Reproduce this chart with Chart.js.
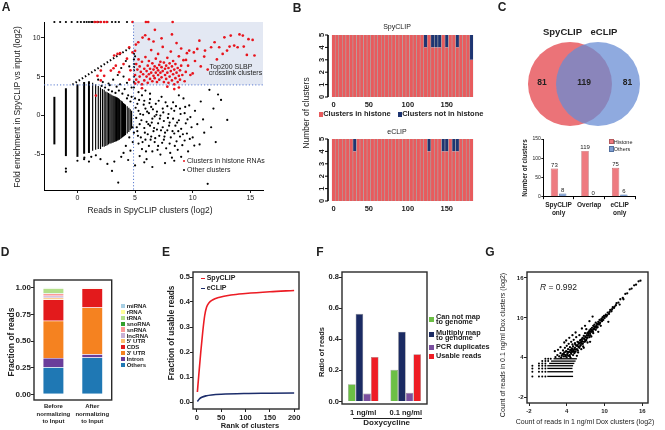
<!DOCTYPE html>
<html>
<head>
<meta charset="utf-8">
<script src="https://cdn.jsdelivr.net/npm/chart.js@4.4.1/dist/chart.umd.min.js"></script>
<style>
body { margin: 0; background: #fff; }
#fig { position: relative; width: 665px; height: 430px; overflow: hidden; color: #222;
       font-family: 'Liberation Sans', Arial, Helvetica, sans-serif; }
canvas { position: absolute; }
.t { position: absolute; white-space: pre; }
.sq { position: absolute; }
</style>
</head>
<body>
<div id="fig"></div>
<script>
// ---------- A: enrichment vs reads ----------
// dense columns of dots at the small discrete read counts: x, lowest y, highest y
const aColX  = [-2, -1, 0, 0.58, 1, 1.32, 1.58, 1.81, 2, 2.17, 2.32, 2.46, 2.58, 2.7, 2.81, 2.91, 3, 3.09, 3.17, 3.25, 3.32, 3.39, 3.46, 3.52, 3.58, 3.64, 3.7, 3.81, 3.91, 4, 4.09, 4.17, 4.32, 4.46, 4.58, 4.7];
const aColLo = [-3.7, -5.2, -5.3, -4.9, -4.8, -4.5, -4.4, -4.3, -4.3, -4.0, -4.0, -3.9, -3.8, -3.7, -3.6, -3.6, -3.5, -3.5, -3.4, -3.4, -3.3, -3.3, -3.2, -3.2, -3.1, -3.1, -3.0, -2.9, -2.8, -2.7, -2.6, -2.5, -2.3, -2.1, -1.9, -1.7];
const aColHi = [2.4, 3.5, 4.0, 4.3, 4.4, 4.2, 4.0, 3.8, 3.6, 3.4, 3.3, 3.1, 3.0, 2.9, 2.8, 2.7, 2.6, 2.55, 2.5, 2.45, 2.4, 2.35, 2.3, 2.25, 2.2, 2.1, 2.0, 1.9, 1.8, 1.6, 1.5, 1.4, 1.2, 1.0, 0.8, 0.6];
// clusters with no input reads lie on a diagonal
const aDiagX = [-0.43, 4.64];
const aDiagY = [3.97, 8.76];
// thresholds of the top200 box
const aCutX = 4.87;
const aCutY = 3.93;
const aRed = [
  [1.5,12],[1.74,12],[2.03,12],[2.32,12],[2.55,12],[4.78,12],[5.94,12],[6.14,12],[8.26,12],
  [1.74,5.1],[2.03,4.5],[2.03,5.77],[2.32,5.1],[2.9,5.77],[3.13,6.07],[3.19,7.7],[3.33,6.4],[3.48,7.9],[3.62,5.56],[3.7,8.0],[4.0,6.6],[4.3,7.3],[1.6,2.56],[4.6,5.8],[4.5,4.6],
  [4.78,8.1],[5.07,9.1],[5.28,9.4],[4.49,8.76],[5.88,10.3],[5.65,10.0],[6.2,9.8],[6.6,9.5],[7.3,9.9],[8.2,10.4],[6.72,11.0],
  [5.0,4.1],[5.1,4.6],[5.0,5.2],[5.2,5.9],[5.1,6.6],[5.3,7.2],[5.0,8.3],[5.3,4.3],[5.4,5.0],[5.5,5.6],[5.4,6.3],[5.6,4.0],[5.6,6.9],
  [5.7,5.3],[5.8,4.5],[5.8,6.0],[5.9,7.5],[6.0,5.0],[6.0,5.7],[6.1,4.2],[6.1,6.4],[6.2,5.3],[6.2,7.0],[6.3,4.7],[6.3,6.0],[6.4,5.5],
  [6.4,8.4],[6.5,4.4],[6.5,6.7],[6.6,5.1],[6.6,5.9],[6.7,4.8],[6.7,6.3],[6.8,5.5],[6.8,7.3],[6.9,4.3],[6.9,6.1],[7.0,5.2],[7.0,5.8],
  [7.0,7.9],[7.1,4.6],[7.1,6.5],[7.2,5.5],[7.2,6.9],[7.3,4.9],[7.3,6.2],[7.4,5.7],[7.4,8.8],[7.5,4.3],[7.5,6.8],[7.6,5.2],[7.6,6.0],
  [7.7,4.7],[7.7,6.4],[7.8,5.5],[7.8,7.4],[7.9,4.2],[7.9,6.1],[8.0,5.0],[8.0,6.7],[8.1,5.7],[8.1,8.2],[8.2,4.5],[8.2,6.3],[8.3,5.3],
  [8.3,7.0],[8.4,4.0],[8.4,5.9],[8.5,4.8],[8.5,6.6],[8.6,5.5],[8.6,9.3],[8.7,4.3],[8.7,6.1],[8.8,5.1],[8.8,7.6],[8.9,4.6],[8.9,5.8],
  [9.0,6.4],[9.0,8.6],[9.1,5.2],[9.2,7.1],[9.3,4.4],[9.4,5.6],[9.42,7.14],[9.5,8.0],[9.6,6.4],[9.7,8.33],[9.8,5.2],[10.0,5.4],[10.1,8.1],
  [10.2,7.0],[10.4,8.55],[10.58,9.6],[10.7,6.3],[11.0,7.56],[11.07,8.33],[11.3,5.9],[11.6,8.76],[11.9,9.4],[12.1,7.2],[12.3,8.76],
  [12.6,7.9],[12.75,10.04],[12.98,8.33],[13.2,8.85],[13.3,10.26],[13.6,8.97],[13.9,8.76],[14.06,10.4],[14.35,10.26],[14.43,8.85],
  [14.7,7.78],[14.84,9.8],[15.2,9.7],[15.36,7.7],[8.4,3.4],[8.8,3.6],[7.8,3.7],[5.6,3.5]
];
const aOther = [
  [-2,12],[-1.5,12],[-1,12],[-0.5,12],[0,12],[0.3,12],[0.58,12],[0.8,12],[1,12],[1.2,12],[1.32,12],[1.58,12],[1.8,12],[2,12],[2.3,12],[2.6,12],[3,12],[3.3,12],[3.6,12],[4.3,12],
  [4.9,7.9],[4.9,7.2],[4.9,6.6],[4.9,6.2],[4.9,5.8],[4.9,5.0],[4.9,4.3],[4.9,3.6],
  [5.0,7.6],[4.2,7.0],[3.8,6.1],[3.5,5.2],[3.1,4.6],[2.7,4.1],[2.2,4.3],[1.8,4.6],[4.5,6.3],[4.0,5.0],[4.3,4.2],[3.7,4.0],[4.7,3.6],[5.3,3.0],[5.6,2.6],[5.9,3.2],[6.3,2.8],
  [2.1,3.8],[2.4,3.6],[2.7,3.3],[3.0,3.1],[3.3,2.9],[3.6,3.2],[3.9,2.8],[4.1,3.4],[4.4,2.6],[4.7,2.4],[2.8,3.9],[3.4,3.7],
  [5.0,2.2],[5.2,1.5],[5.3,0.6],[5.1,-0.3],[5.4,-1.1],[5.2,-2.0],[5.5,-2.8],[5.3,-3.6],[5.6,-4.3],[5.4,-5.2],
  [5.8,1.9],[5.9,0.9],[5.7,0.1],[6.0,-0.8],[5.8,-1.6],[6.1,-2.4],[5.9,-3.1],[6.2,-3.9],[6.0,-5.6],
  [6.3,2.1],[6.4,1.1],[6.2,0.3],[6.5,-0.4],[6.3,-1.3],[6.6,-2.0],[6.4,-2.7],[6.7,-3.4],[6.5,-4.6],
  [6.8,1.5],[6.9,0.5],[6.7,-0.1],[7.0,-1.0],[6.9,-1.8],[7.1,-2.6],[7.0,-3.9],[7.2,-5.0],
  [7.3,2.4],[7.4,0.9],[7.2,0.0],[7.5,-0.7],[7.4,-1.5],[7.6,-2.2],[7.5,-3.1],[7.7,-4.2],
  [7.8,1.2],[7.9,0.2],[8.0,-0.9],[7.8,-1.9],[8.1,-2.8],[8.0,-3.6],[8.2,-5.4],
  [8.3,1.7],[8.4,0.6],[8.3,-0.4],[8.5,-1.3],[8.4,-2.3],[8.6,-3.3],[8.7,-4.4],
  [8.8,2.6],[8.9,0.9],[8.8,-0.6],[9.0,-1.7],[8.9,-2.7],[9.1,-3.8],
  [9.2,2.2],[9.3,0.3],[9.4,-1.0],[9.5,-2.3],[9.3,-3.2],[9.6,-4.6],
  [9.7,1.3],[9.8,-0.2],[9.9,-1.5],[10.0,-2.8],[10.14,-3.85],[10.2,0.6],[10.4,-1.1],[10.6,-3.7],[10.7,1.8],[10.9,-0.5],[11.0,-2.2],
  [11.45,3.3],[11.6,-1.5],[11.8,0.9],[12.0,-3.4],[12.2,2.7],[12.46,2.0],[13.0,-0.56],
  [5.05,1.0],[5.15,-1.5],[5.25,-2.6],[5.35,2.0],[5.45,0.2],[5.55,-0.6],[5.65,-3.4],[5.75,1.4],[5.85,-2.2],[5.95,-4.6],
  [6.05,0.5],[6.15,-1.1],[6.25,1.6],[6.35,-3.1],[6.45,-0.9],[6.55,0.8],[6.65,-1.6],[6.75,-2.9],[6.85,0.1],[6.95,-4.4],
  [7.05,1.9],[7.15,-0.4],[7.25,-1.9],[7.35,-3.5],[7.45,0.4],[7.55,-2.7],[7.65,1.7],[7.85,-0.3],[7.95,-1.3],[8.05,-4.8],
  [8.15,0.9],[8.25,-2.0],[8.45,-3.9],[8.55,1.2],[8.65,-0.9],[8.75,-2.0],[8.95,0.2],[9.15,-2.4],[9.35,1.1],[9.55,-0.5],[9.75,-3.0],
  [11.3,-8.76],[3.54,-8.6],[9.0,-5.3],[8.4,-5.8],[7.6,-6.1],[6.5,-6.6],[5.8,-6.0],[5.0,-6.4],[4.4,-5.7],[3.8,-5.3],[3.2,-5.9],
  [2.6,-6.2],[2.0,-5.6],[1.6,-5.1],[1.2,-5.3],[0.6,-5.4],[3.0,-7.1],[4.0,-4.8],[4.6,-4.5],[4.2,-3.9],[4.8,-3.4],[4.5,-2.8],
  [4.9,-2.2],[4.3,2.2],[4.6,1.8],[4.8,-1.5],[-1,-6.8],[-1,-7.2],[0,-5.8],[0.58,-5.6],[1.0,-5.9]
];
const aXTicks = [0, 5, 10, 15];
const aYTicks = [-5, 0, 5, 10];

// ---------- B: top200 clusters in bins of 5 ----------
const bSpyHist  = [5,5,5,5,5,5,5,5,5,5, 5,5,5,5,5,5,5,5,5,5, 5,5,5,5,5,5,4,5,4,4, 4,5,4,5,5,4,5,5,5,3];
const bSpyOther = [0,0,0,0,0,0,0,0,0,0, 0,0,0,0,0,0,0,0,0,0, 0,0,0,0,0,0,1,0,1,1, 1,0,1,0,0,1,0,0,0,2];
const bEclHist  = [5,5,5,5,5,5,4,5,5,5, 5,5,5,5,5,5,5,5,5,5, 5,5,5,5,5,5,5,4,5,5, 5,4,4,5,4,4,5,5,5,5];
const bEclOther = [0,0,0,0,0,0,1,0,0,0, 0,0,0,0,0,0,0,0,0,0, 0,0,0,0,0,0,0,1,0,0, 0,1,1,0,1,1,0,0,0,0];
const bTickBin = [0, 10, 21, 32];
const bTickLabels = ['0', '50', '100', '150'];
const bYTicks = [0, 1, 2, 3, 4, 5];

// ---------- C: overlap of the two top200 sets ----------
const vennNames = ['SpyCLIP', 'eCLIP'];
const vennCounts = [81, 119, 81];
const cGroups = [['SpyCLIP', 'only'], 'Overlap', ['eCLIP', 'only']];
const cHistone = [73, 119, 75];
const cOthers = [8, 0, 6];
const cYTicks = [0, 50, 100, 150];

// ---------- D: read fractions by RNA type ----------
const dCats = [['Before', 'normalizing', 'to Input'], ['After', 'normalizing', 'to Input']];
const dTypes  = ['Others', 'Intron', "3' UTR", 'CDS', "5' UTR", 'lncRNA', 'snRNA', 'snoRNA', 'tRNA', 'rRNA', 'miRNA'];
const dBefore = [0.255, 0.085, 0.35, 0.20, 0.015, 0.02, 0.02, 0.005, 0.045, 0.003, 0.002];
const dAfter  = [0.345, 0.03, 0.44, 0.178, 0.004, 0.001, 0.001, 0.0, 0.001, 0.0, 0.0];
const dYTicks = [0, 0.25, 0.5, 0.75, 1];

// ---------- E: cumulative usable reads ----------
const eRankSpy = [1, 4, 8, 12, 16, 20, 25, 32, 45, 70, 100, 150, 200];
const eSpy     = [0.04, 0.11, 0.20, 0.28, 0.345, 0.38, 0.397, 0.408, 0.418, 0.428, 0.434, 0.441, 0.446];
const eRankEcl = [1, 5, 10, 20, 30, 50, 100, 150, 200];
const eEcl     = [0.002, 0.012, 0.019, 0.025, 0.028, 0.031, 0.034, 0.035, 0.036];
const eXTicks = [0, 50, 100, 150, 200];
const eYTicks = [0, 0.1, 0.2, 0.3, 0.4, 0.5];

// ---------- F: read categories by dose ----------
const fDoses = ['1 ng/ml', '0.1 ng/ml'];
const fCannot = [0.111, 0.204];
const fMulti  = [0.564, 0.449];
const fPcr    = [0.051, 0.056];
const fUsable = [0.287, 0.304];
const fYTicks = [0, 0.2, 0.4, 0.6, 0.8];

// ---------- G: reads per cluster, two doses ----------
// low-count rows: y level, first x, last x
const gRowY  = [1.2, 1.9, 2.4, 2.8, 3.15, 3.5, 3.85];
const gRowX0 = [0.9, 0.9, 0.9, 0.9, 1.2, 1.5, 1.9];
const gRowX1 = [5.0, 5.0, 4.9, 5.0, 5.2, 5.4, 5.6];
const gDots = [[-1.47,1.2],[-0.42,1.2],[0.1,1.2],[0.6,1.2],[-1.47,1.9],[-0.42,1.9],[0.1,1.9],[0.6,1.9],[-1.47,2.4],[-0.42,2.4],[0.1,2.4],[0.6,2.4],
  [-1.47,2.8],[-0.42,2.8],[0.1,2.8],[0.6,2.8],[-0.42,3.15],[0.1,3.15],[0.6,3.15],[0.1,3.5],[0.6,3.5],[1.05,3.5],[0.6,3.85],[1.05,3.85],[1.45,3.85]];
const gDiag = [
  [2.2,4.1],[2.5,4.4],[2.8,4.2],[3.0,4.7],[3.1,4.0],[3.3,4.5],[3.4,5.1],[3.5,4.2],[3.6,4.8],[3.7,5.5],[3.8,4.4],[3.9,5.0],[4.0,4.1],[4.0,5.8],
  [4.1,4.6],[4.2,5.3],[4.3,4.3],[4.3,6.1],[4.4,4.9],[4.5,5.6],[4.5,4.2],[4.6,5.1],[4.7,6.4],[4.7,4.6],[4.8,5.4],[4.9,4.9],[4.9,6.0],[5.0,4.4],
  [5.0,5.7],[5.1,5.1],[5.1,6.7],[5.2,4.7],[5.3,5.5],[5.3,6.2],[5.4,4.9],[5.5,5.8],[5.5,7.1],[5.6,5.3],[5.7,6.4],[5.8,5.7],[5.8,4.8],[5.9,6.1],
  [6.0,5.5],[6.0,7.4],[6.1,6.6],[6.2,5.9],[6.2,6.3],[6.3,5.3],[6.4,6.8],[6.4,6.1],[6.5,7.0],[6.6,6.4],[6.6,5.7],[6.7,7.3],[6.8,6.8],[6.9,6.5],
  [6.9,7.7],[7.0,7.1],[7.1,6.7],[7.1,8.3],[7.2,7.4],[7.3,7.0],[7.3,6.3],[7.4,7.8],[7.5,7.4],[7.6,8.1],[7.6,7.1],[7.7,7.7],[7.8,8.3],[7.9,7.9],
  [7.9,7.2],[8.0,8.5],[8.1,8.1],[8.2,8.8],[8.2,7.7],[8.3,8.4],[8.4,9.0],[8.5,8.6],[8.6,8.2],[8.6,9.3],[8.7,8.8],[8.8,9.1],[8.9,8.6],[9.0,9.4],
  [9.1,9.0],[9.2,9.7],[9.3,9.3],[9.4,8.8],[9.5,9.8],[9.6,9.5],[9.7,10.1],[9.8,9.7],[9.9,10.3],[10.0,10.0],[10.2,10.5],[10.3,10.2],[10.5,10.8],
  [10.7,10.6],[10.9,11.2],[11.1,11.0],[11.3,11.6],[11.6,11.7],[11.9,12.2],[12.2,12.3],[12.5,12.8],[12.9,13.0],[13.3,13.6],[13.6,13.7],
  [14.0,14.3],[14.3,14.4],[14.7,14.9],[15.0,15.0],[15.4,15.5],[15.7,15.6],
  [10.6,9.4],[8.1,10.2],[6.4,8.4],[5.4,7.8],[4.4,7.0],[3.6,6.3],[3.0,5.6],[2.6,5.2],[7.6,9.5],[9.0,7.9],[7.7,6.4],[6.7,5.5],[5.6,4.3],
  [4.6,4.0],[3.9,6.6],[2.1,5.0],[4.9,7.4],[6.9,8.8],[12.4,12.0],[13.0,12.8],
  [4.15,4.9],[4.55,5.2],[4.85,5.0],[5.25,5.3],[5.65,5.9],[5.95,5.6],[6.35,6.4],[6.75,6.9],[7.15,7.0],[7.45,7.6],[7.85,8.0],[8.25,8.3],
  [8.65,8.7],[9.05,9.2],[9.45,9.6],[3.45,4.6],[3.85,4.9],[5.35,6.0],[6.05,6.2],[7.25,7.7],
  [3.2,4.3],[3.55,4.5],[3.75,4.2],[4.05,4.4],[4.25,4.8],[4.45,4.4],[4.65,4.8],[4.75,5.2],[4.95,5.3],[5.15,4.9],[5.45,5.2],[5.75,5.1],
  [5.85,6.3],[6.15,5.8],[6.25,6.7],[6.45,6.5],[6.55,6.1],[6.85,6.4],[6.95,7.2],[7.05,6.6],[7.35,7.3],[7.55,7.9],[7.75,7.4],[7.95,8.2],
  [8.15,7.9],[8.35,8.7],[8.45,8.3],[8.75,8.5],[8.85,9.0],[9.15,9.3],[9.25,9.1],[9.55,9.9],[9.65,9.7],[9.95,10.0],[10.1,10.3],[10.4,10.4],
  [10.8,10.9],[11.2,11.3],[11.5,11.5],[11.8,11.9]
];
const gTicks = [-2, 4, 10, 16];
const gR = '0.992';

// ---------- helpers ----------
const FF = "'Liberation Sans', Arial, Helvetica, sans-serif";
Chart.defaults.font.family = FF;
Chart.defaults.color = '#222';
Chart.defaults.animation = false;
Chart.defaults.responsive = false;
Chart.defaults.events = [];
Chart.defaults.plugins.legend.display = false;
Chart.defaults.plugins.tooltip.enabled = false;

const fig = document.getElementById('fig');

function canvasAt(x, y, w, h) {
    const c = document.createElement('canvas');
    c.width = w; c.height = h;
    c.style.left = x + 'px'; c.style.top = y + 'px';
    c.style.width = w + 'px'; c.style.height = h + 'px';
    fig.appendChild(c);
    return c;
}

function text(s, x, y, size, opt) {
    opt = opt || {};
    const d = document.createElement('div');
    d.className = 't';
    if (opt.html) d.innerHTML = s; else d.textContent = s;
    const tx = opt.align == 'left' ? '0' : '-50%';
    d.style.left = x + 'px'; d.style.top = y + 'px';
    d.style.font = (opt.bold ? 'bold ' : '') + size + 'px ' + FF;
    d.style.lineHeight = opt.lh || 1.15;
    d.style.transform = 'translate(' + tx + ',-50%)' + (opt.rot ? ' rotate(-90deg)' : '');
    fig.appendChild(d);
    return d;
}

function square(x, y, w, h, color, extra) {
    const d = document.createElement('div');
    d.className = 'sq';
    d.style.cssText = 'left:' + x + 'px;top:' + y + 'px;width:' + w + 'px;height:' + h + 'px;background:' + color + ';' + (extra || '');
    fig.appendChild(d);
}

const fixSize = n => s => { if (s.isHorizontal()) s.height = n; else s.width = n; };
const tickAt = vals => s => { s.ticks = vals.map(v => ({ value: v })); };
const pts = arr => arr.map(p => ({ x: p[0], y: p[1] }));
const noGrid = { display: false, drawTicks: false, tickLength: 0 };

function linAxis(min, max, ticks, size, font, o) {
    o = o || {};
    return {
        type: 'linear', min: min, max: max, stacked: !!o.stacked,
        afterBuildTicks: tickAt(ticks),
        afterFit: fixSize(size),
        grid: { drawOnChartArea: false, tickLength: o.tl || 3, color: '#222', tickWidth: 1 },
        border: o.border ? { display: true, color: '#000', width: o.border } : { display: false },
        ticks: { font: font, color: '#222', padding: o.pad == null ? 0 : o.pad,
                 autoSkip: false, maxRotation: 0, callback: o.fmt || (v => String(v)) }
    };
}

function catAxis(size, font, pad) {
    return {
        type: 'category', stacked: true, afterFit: fixSize(size),
        grid: noGrid, border: { display: false },
        ticks: { font: font, color: '#222', padding: pad, autoSkip: false, maxRotation: 0 }
    };
}

const frame = {
    id: 'frame',
    afterDraw(c) {
        const a = c.chartArea, g = c.ctx;
        g.save();
        g.strokeStyle = '#2a2a2a'; g.lineWidth = 1.4;
        g.strokeRect(a.left, a.top, a.right - a.left, a.bottom - a.top);
        g.restore();
    }
};

// ---------- A ----------
const aGuides = {
    id: 'aGuides',
    beforeDatasetsDraw(c) {
        const g = c.ctx, a = c.chartArea;
        const px = c.scales.x.getPixelForValue(aCutX), py = c.scales.y.getPixelForValue(aCutY);
        g.save();
        g.fillStyle = '#e3e8f3';
        g.fillRect(px, a.top, a.right - px, py - a.top);
        g.restore();
    },
    afterDatasetsDraw(c) {
        const g = c.ctx, a = c.chartArea;
        const px = c.scales.x.getPixelForValue(aCutX), py = c.scales.y.getPixelForValue(aCutY);
        g.save();
        g.strokeStyle = '#5a7bd0'; g.lineWidth = 1; g.setLineDash([1.2, 2]);
        g.beginPath();
        g.moveTo(px, a.top); g.lineTo(px, a.bottom);
        g.moveTo(a.left, py); g.lineTo(a.right, py);
        g.stroke();
        g.restore();
    }
};

const aCols = aColX.map((x, i) => ({
    data: [{ x: x, y: aColLo[i] }, { x: x, y: aColHi[i] }],
    showLine: true, borderColor: '#000', borderWidth: i < 5 ? 2 : 1.15, pointRadius: 0
}));

new Chart(canvasAt(0, 0, 300, 218), {
    type: 'scatter',
    data: {
        datasets: [
            { data: pts(aRed), pointRadius: 1.35, backgroundColor: '#e8141c', borderWidth: 0, clip: false },
            { data: pts(aOther), pointRadius: 1.1, backgroundColor: '#000', borderWidth: 0, clip: false },
            { data: [{ x: aDiagX[0], y: aDiagY[0] }, { x: aDiagX[1], y: aDiagY[1] }], showLine: true,
              borderColor: '#000', borderWidth: 2, borderDash: [1.5, 2.2], pointRadius: 0 }
        ].concat(aCols)
    },
    options: {
        layout: { padding: { top: 22, right: 37, left: 0, bottom: 0 } },
        scales: {
            x: linAxis(-2.9, 16.1, aXTicks, 28, { size: 7 }, { border: 1, pad: 0.5 }),
            y: linAxis(-9.55, 12, aYTicks, 44, { size: 7 }, { border: 1, pad: 0.5 })
        }
    },
    plugins: [aGuides]
});

// ---------- B ----------
const bBinLabels = bSpyHist.map((v, i) => {
    const k = bTickBin.indexOf(i);
    return k < 0 ? '' : bTickLabels[k];
});

// y axis of the bin charts sits a little left of the first bar, labels turned
const bAxis = {
    id: 'bAxis',
    afterDraw(c) {
        const s = c.scales.y, g = c.ctx;
        const x0 = c.chartArea.left - 3.7;
        g.save();
        g.strokeStyle = '#000';
        g.lineWidth = 1.6;
        g.beginPath();
        g.moveTo(x0, s.getPixelForValue(0)); g.lineTo(x0, s.getPixelForValue(5));
        g.stroke();
        g.lineWidth = 1;
        g.font = 'bold 7.5px ' + FF; g.fillStyle = '#222';
        g.textAlign = 'center'; g.textBaseline = 'middle';
        bYTicks.forEach(v => {
            const y = s.getPixelForValue(v);
            g.beginPath(); g.moveTo(x0, y); g.lineTo(x0 - 3, y); g.stroke();
            g.save();
            g.translate(x0 - 6.4, y);
            g.rotate(-Math.PI / 2);
            g.fillText(String(v), 0, 0);
            g.restore();
        });
        g.restore();
    }
};

function binChart(top, hist, other) {
    const bar = { categoryPercentage: 1, barPercentage: 1, borderColor: '#a8a8a8',
                  borderWidth: { left: 0.6, right: 0.6, top: 0, bottom: 0 } };
    new Chart(canvasAt(300, top, 180, 90), {
        type: 'bar',
        data: {
            labels: bBinLabels,
            datasets: [
                Object.assign({ data: hist, backgroundColor: '#e85b5d' }, bar),
                Object.assign({ data: other, backgroundColor: '#1e3572' }, bar)
            ]
        },
        options: {
            layout: { padding: { top: 15, right: 6.7, left: 31.7, bottom: 0 } },
            scales: {
                x: catAxis(13, { size: 7.5, weight: 'bold' }, 3),
                y: { display: false, stacked: true, min: 0, max: 5 }
            }
        },
        plugins: [bAxis]
    });
}
binChart(20, bSpyHist, bSpyOther);
binChart(124, bEclHist, bEclOther);

// ---------- C ----------
new Chart(canvasAt(500, 26, 165, 116), {
    type: 'bubble',
    data: {
        datasets: [
            { data: [{ x: 1, y: 0 }], radius: 42, backgroundColor: 'rgba(104,140,212,0.74)', borderWidth: 0, clip: false },
            { data: [{ x: 0, y: 0 }], radius: 42, backgroundColor: 'rgba(232,92,98,0.86)', borderWidth: 0, clip: false }
        ]
    },
    options: {
        layout: { padding: 0, autoPadding: false },
        scales: { x: { display: false, min: -2.5, max: 3.393 }, y: { display: false, min: -1, max: 1 } }
    }
});

const barVals = {
    id: 'barVals',
    afterDatasetsDraw(c) {
        const g = c.ctx;
        g.save();
        g.font = '6px ' + FF; g.fillStyle = '#222';
        g.textAlign = 'center'; g.textBaseline = 'bottom';
        c.data.datasets.forEach((ds, i) => {
            c.getDatasetMeta(i).data.forEach((b, j) => g.fillText(String(ds.data[j]), b.x, b.y - 0.5));
        });
        g.restore();
    }
};

new Chart(canvasAt(500, 130, 165, 95), {
    type: 'bar',
    data: {
        labels: cGroups,
        datasets: [
            { data: cHistone, backgroundColor: '#ee7b80', borderColor: '#b55a5d', borderWidth: 0.7 },
            { data: cOthers, backgroundColor: '#7e9ed2', borderColor: '#52709f', borderWidth: 0.7 }
        ]
    },
    options: {
        datasets: { bar: { categoryPercentage: 0.54, barPercentage: 0.9 } },
        layout: { padding: { top: 9, right: 30, left: 0, bottom: 0 } },
        scales: {
            x: {
                afterFit: fixSize(28.3),
                grid: { display: true, drawOnChartArea: false, offset: true, tickLength: 2.5, color: '#000' },
                border: { display: true, color: '#000', width: 1 },
                ticks: { font: { size: 6.5, weight: 'bold', lineHeight: 1.23 }, padding: 2, maxRotation: 0, autoSkip: false }
            },
            y: linAxis(0, 150, cYTicks, 43.3, { size: 5 }, { border: 1, tl: 2, pad: 0.5 })
        }
    },
    plugins: [barVals]
});

// ---------- D ----------
const dColors = ['#1f78b4', '#6a3d9a', '#f58220', '#e31a1c', '#fdbf6f', '#cab2d6', '#fb9a99', '#33a02c', '#b2df8a', '#ffff99', '#a6cee3'];
new Chart(canvasAt(0, 240, 160, 190), {
    type: 'bar',
    data: {
        labels: dCats,
        datasets: dTypes.map((t, k) => ({
            label: t,
            data: [dBefore[k], dAfter[k]],
            backgroundColor: dColors[k], borderColor: 'rgba(255,255,255,0.7)', borderWidth: 0.5,
            categoryPercentage: 1, barPercentage: 0.54
        }))
    },
    options: {
        layout: { padding: { top: 40, right: 48.3, left: 0, bottom: 0 } },
        scales: {
            x: catAxis(30, { size: 6, weight: 'bold', lineHeight: 1.25 }, 3),
            y: linAxis(-0.053, 1.072, dYTicks, 34, { size: 8, weight: 'bold' },
                       { stacked: true, fmt: v => v.toFixed(2) })
        }
    },
    plugins: [frame]
});

// ---------- E ----------
new Chart(canvasAt(160, 240, 170, 190), {
    type: 'scatter',
    data: {
        datasets: [
            { data: eRankSpy.map((r, i) => ({ x: r, y: eSpy[i] })), showLine: true, borderColor: '#ec1c24',
              borderWidth: 1.6, pointRadius: 0, cubicInterpolationMode: 'monotone' },
            { data: eRankEcl.map((r, i) => ({ x: r, y: eEcl[i] })), showLine: true, borderColor: '#1c2d6b',
              borderWidth: 1.6, pointRadius: 0, cubicInterpolationMode: 'monotone' }
        ]
    },
    options: {
        layout: { padding: { top: 32, right: 31, left: 0, bottom: 0 } },
        scales: {
            x: linAxis(-8, 210, eXTicks, 21, { size: 7.5, weight: 'bold' }, { pad: 1 }),
            y: linAxis(-0.028, 0.52, eYTicks, 33, { size: 7.5, weight: 'bold' }, { fmt: v => v.toFixed(1) })
        }
    },
    plugins: [frame]
});

// ---------- F ----------
const fBar = { borderColor: '#8a8a8a', borderWidth: 0.6 };
new Chart(canvasAt(310, 240, 125, 190), {
    type: 'bar',
    data: {
        labels: fDoses,
        datasets: [
            Object.assign({ data: fCannot, backgroundColor: '#6cbf45' }, fBar),
            Object.assign({ data: fMulti, backgroundColor: '#1b2b63' }, fBar),
            Object.assign({ data: fPcr, backgroundColor: '#7a4f9f' }, fBar),
            Object.assign({ data: fUsable, backgroundColor: '#ee1d25' }, fBar)
        ]
    },
    options: {
        datasets: { bar: { categoryPercentage: 0.72, barPercentage: 1 } },
        layout: { padding: { top: 32, right: 8, left: 0, bottom: 0 } },
        scales: {
            x: {
                afterFit: fixSize(26),
                grid: noGrid, border: { display: false },
                ticks: { font: { size: 7.5, weight: 'bold' }, padding: 4.5, maxRotation: 0, autoSkip: false, color: '#222' }
            },
            y: linAxis(-0.016, 0.833, fYTicks, 32, { size: 7.5, weight: 'bold' }, { fmt: v => v.toFixed(1) })
        }
    },
    plugins: [frame]
});

// ---------- G ----------
const gRows = gRowY.map((y, i) => ({
    data: [{ x: gRowX0[i], y: y }, { x: gRowX1[i], y: y }],
    showLine: true, borderColor: '#000', borderWidth: 1.3, pointRadius: 0
}));
new Chart(canvasAt(495, 240, 170, 190), {
    type: 'scatter',
    data: {
        datasets: [
            { data: pts(gDiag), pointRadius: 1.15, backgroundColor: '#000', borderWidth: 0 },
            { data: pts(gDots), pointRadius: 1, backgroundColor: '#000', borderWidth: 0 }
        ].concat(gRows)
    },
    options: {
        layout: { padding: { top: 32, right: 17, left: 0, bottom: 0 } },
        scales: {
            x: linAxis(-2.32, 16.9, gTicks, 27, { size: 6, weight: 'bold' }, { pad: 1.5 }),
            y: linAxis(-2.8, 16.9, gTicks, 32, { size: 6, weight: 'bold' }, { pad: 0.5 })
        }
    },
    plugins: [frame]
});

// ---------- texts and legends ----------
[['A', 6, 8], ['B', 297, 9], ['C', 502, 8], ['D', 5, 253], ['E', 166, 253], ['F', 320, 253], ['G', 490, 253]]
    .forEach(p => text(p[0], p[1], p[2], 12, { bold: true }));

// A
text('Fold enrichment in SpyCLIP vs input (log2)', 18, 107, 8.5, { rot: true });
text('Reads in SpyCLIP clusters (log2)', 150, 211, 8.5);
text('Top200 SLBP', 231, 66.5, 7);
text('crosslink clusters', 235.5, 73, 7);
square(182.7, 159.7, 2.6, 2.6, '#e8141c', 'border-radius:50%');
text('Clusters in histone RNAs', 187, 161, 7, { align: 'left' });
square(182.7, 168.7, 2.6, 2.6, '#000', 'border-radius:50%');
text('Other clusters', 187, 170, 7, { align: 'left' });

// B
text('SpyCLIP', 397, 26.7, 7);
text('eCLIP', 397, 131.7, 7);
text('Number of clusters', 307, 113, 8.5, { rot: true });
square(319, 112, 3.7, 4.7, '#e85b5d');
text('Clusters in histone', 323.2, 114.4, 7.5, { align: 'left', bold: true });
square(398, 112, 3.7, 4.7, '#1e3572');
text('Clusters not in histone', 402.2, 114.4, 7.5, { align: 'left', bold: true });

// C
text(vennNames[0], 562.5, 31.7, 9.5, { bold: true });
text(vennNames[1], 604, 31.7, 9.5, { bold: true });
text(String(vennCounts[0]), 542, 83.3, 8.5, { bold: true });
text(String(vennCounts[1]), 584, 83.3, 8.5, { bold: true });
text(String(vennCounts[2]), 627.5, 83.3, 8.5, { bold: true });
text('Number of clusters', 525, 168, 6.3, { rot: true, bold: true });
square(610, 140, 3, 3.3, '#ee7b80', 'outline:0.5px solid #b55a5d');
text('Histone', 613.8, 141.7, 5.5, { align: 'left' });
square(610, 147.3, 3, 3.3, '#7e9ed2', 'outline:0.5px solid #52709f');
text('Others', 613.8, 149, 5.5, { align: 'left' });

// D
text('Fraction of reads', 11.7, 342, 8.5, { rot: true, bold: true });
dTypes.slice().reverse().forEach((t, k) => {
    const y = 306 + k * 5.9;
    square(120.7, y - 2.2, 4.3, 4.3, dColors[dTypes.length - 1 - k]);
    text(t, 126.7, y, 6, { align: 'left', bold: true });
});

// E
text('Fraction of usable reads', 171.7, 333, 8.2, { rot: true, bold: true });
text('Rank of clusters', 250, 425.7, 7.5, { bold: true });
square(200.7, 277.6, 4.3, 1.4, '#ec1c24');
text('SpyCLIP', 206.7, 278.3, 7, { align: 'left', bold: true });
square(200.7, 287.6, 4.3, 1.4, '#1c2d6b');
text('eCLIP', 206.7, 288.3, 7, { align: 'left', bold: true });

// F
text('Ratio of reads', 321.7, 352, 7.5, { rot: true, bold: true });
square(353, 417.5, 69, 1.1, '#222');
text('Doxycycline', 386.7, 423.3, 8, { bold: true });
[['Can not map\nto genome', '#6cbf45', 319], ['Multiply map\nto genome', '#1b2b63', 334.5],
 ['PCR duplicates', '#7a4f9f', 347.3], ['Usable reads', '#ee1d25', 356.3]].forEach(p => {
    square(429.3, p[2] - 2.5, 5, 5, p[1]);
    text(p[0], 436, p[2], 7.3, { align: 'left', bold: true, lh: 0.75 });
});

// G
text('<i>R</i> = ' + gR, 558.5, 288.3, 8.5, { html: true });
text('Count of reads in 1 ng/ml Dox clusters (log2)', 585, 421.7, 7);
text('Count of reads in 0.1 ng/ml Dox clusters (log2)', 503, 345, 7, { rot: true });
</script>
</body>
</html>
